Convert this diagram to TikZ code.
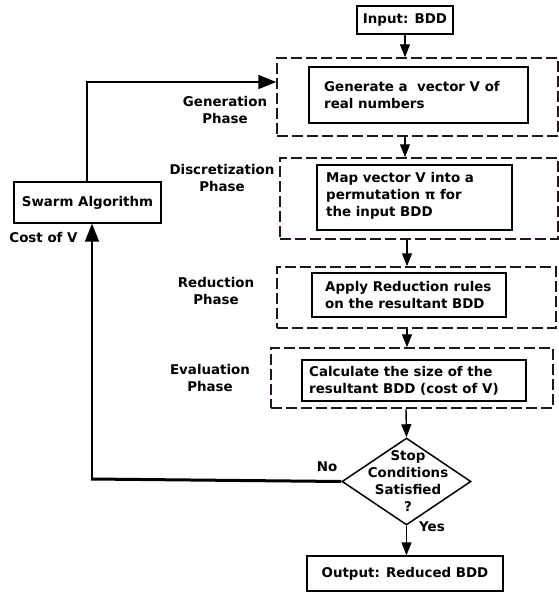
\documentclass[tikz,border=0pt]{standalone}
\usepackage{fontspec}
\setmainfont{DejaVu Sans}
\usetikzlibrary{shapes.geometric,arrows.meta}
\definecolor{dashbrown}{RGB}{40,20,20}
\begin{document}
\begin{tikzpicture}[x=1pt,y=-1pt,
  every node/.style={font=\fontsize{13.4}{17}\selectfont\bfseries, inner sep=0pt},
  phasebox/.style={draw=dashbrown, line width=1.5pt, dash pattern=on 11pt off 4pt, rectangle},
  inbox/.style={draw, line width=2pt, rectangle},
  iobox/.style={draw, line width=1.3pt, rectangle},
  txt/.style={align=left, anchor=west},
  lbl/.style={align=center},
  flow/.style={line width=1.4pt, -{Triangle[length=13pt,width=10pt]}},
  bigflow/.style={line width=1.8pt, -{Triangle[length=18pt,width=14pt]}}]
\useasboundingbox (0,0) rectangle (559,592);

% input
\node[iobox, minimum width=96pt, minimum height=28pt] (input) at (405,20) {Input: BDD};

% generation
\node[phasebox, minimum width=281pt, minimum height=78pt] (gendash) at (417.5,97) {};
\node[inbox, minimum width=219pt, minimum height=56pt] (gen) at (418.5,95) {};
\node[txt] (gent) at ([xshift=16pt]gen.west) {Generate a\ \ vector V of\\real numbers};
\node[lbl] (genl) at (225,110) {Generation\\Phase};

% discretization
\node[phasebox, minimum width=278pt, minimum height=81pt] (discdash) at (419,198.5) {};
\node[inbox, minimum width=195pt, minimum height=65pt] (disc) at (414.5,197.5) {};
\node[txt] (disct) at ([xshift=10pt,yshift=2pt]disc.west) {Map vector V into a\\permutation π for\\the input BDD};
\node[lbl] (discl) at (222,178) {Discretization\\Phase};

% reduction
\node[phasebox, minimum width=279pt, minimum height=61pt] (reddash) at (416.5,297.5) {};
\node[inbox, minimum width=194pt, minimum height=44pt] (red) at (409,295) {};
\node[txt] (redt) at ([xshift=14pt]red.west) {Apply Reduction rules\\on the resultant BDD};
\node[lbl] (redl) at (216,290.5) {Reduction\\Phase};

% evaluation
\node[phasebox, minimum width=282pt, minimum height=60pt] (evaldash) at (412,378) {};
\node[inbox, minimum width=224pt, minimum height=41pt] (eval) at (414,380.5) {};
\node[txt] (evalt) at ([xshift=8pt]eval.west) {Calculate the size of the\\resultant BDD (cost of V)};
\node[lbl] (evall) at (210,377.5) {Evaluation\\Phase};

% decision
\node[diamond, draw, line width=1.5pt, minimum width=129pt, minimum height=87pt] (dia) at (406.5,481.5) {};
\node[lbl] (diat) at (408,481.5) {Stop\\Conditions\\Satisfied\\?};
\node (no) at (327,467) {No};
\node (yes) at (432,527) {Yes};

% output
\node[iobox, minimum width=196pt, minimum height=35pt] (output) at (405,573.5) {Output: Reduced BDD};

% swarm
\node[iobox, minimum width=147pt, minimum height=41pt] (swarm) at (87.5,202.5) {Swarm Algorithm};
\node (cost) at (43.5,237) {Cost of V};

% vertical flow
\draw[flow] (input.south) -- (input.south |- gendash.north);
\draw[flow] (gendash.south -| input) -- (discdash.north -| input);
\draw[flow] ([xshift=2pt]discdash.south -| input) -- ([xshift=2pt]reddash.north -| input);
\draw[flow] ([xshift=2pt]reddash.south -| input) -- ([xshift=2pt]evaldash.north -| input);
\draw[flow] ([xshift=1pt]evaldash.south -| input) -- (dia.north);
\draw[flow] (dia.south) -- (dia.south |- output.north);

% feedback loop
\coordinate (cnr) at (92,479);
\coordinate (top) at (87,82);
\draw[line width=3pt] (dia.west) -- ([xshift=-1pt]cnr);
\draw[bigflow] (cnr) -- (swarm.south -| cnr);
\draw[bigflow] (swarm.north -| top) -- (top) -- (top -| gendash.west);
\end{tikzpicture}
\end{document}
